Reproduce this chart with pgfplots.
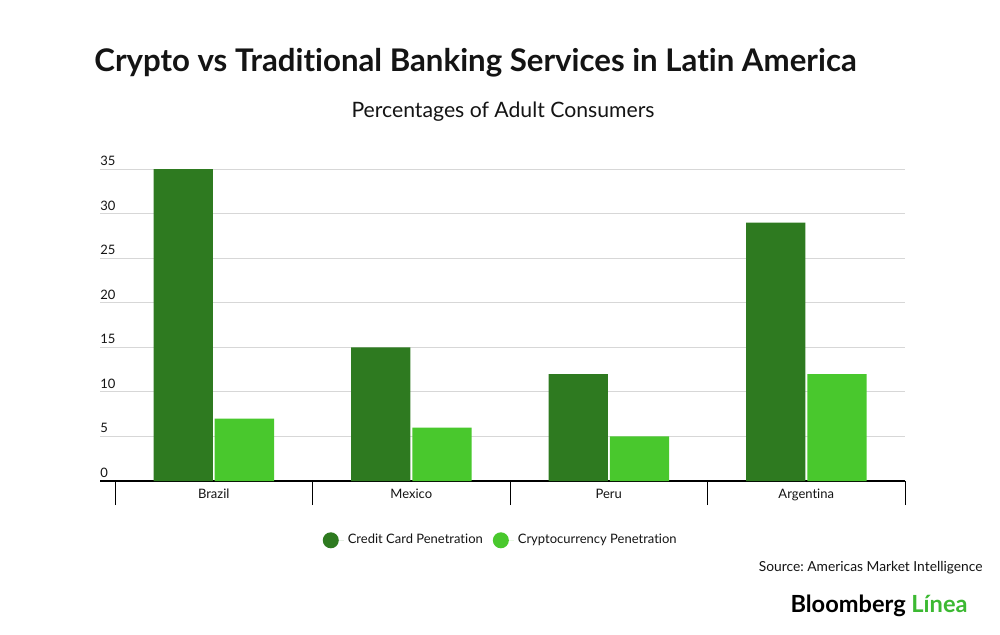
\documentclass[border=0pt]{standalone}
\usepackage{pgfplots}
\pgfplotsset{compat=1.18}
\usepackage{fontspec}
\setmainfont{Lato}[Ligatures={NoCommon,NoRare}]
\frenchspacing
\definecolor{darkg}{RGB}{46,122,32}
\definecolor{lightg}{RGB}{73,200,45}
\definecolor{logog}{RGB}{60,185,50}
\definecolor{txt}{RGB}{20,20,20}
\definecolor{gridc}{RGB}{215,215,215}
\begin{document}
\begin{tikzpicture}
\path[use as bounding box, fill=white] (0,0) rectangle (500pt,-317pt);
\node[anchor=base west, inner sep=0pt, text=txt, font=\fontsize{15.6pt}{17pt}\selectfont\bfseries] at (47pt,-35.5pt) {Crypto vs Traditional Banking Services in Latin America};
\node[anchor=base, inner sep=0pt, text=txt, font=\fontsize{10.6pt}{12pt}\selectfont] at (251.5pt,-58.5pt) {Percentages of Adult Consumers};
\begin{axis}[
  at={(50pt,-240.5pt)}, anchor=south west,
  scale only axis,
  width=402.5pt, height=156pt,
  xmin=-0.576, xmax=3.5,
  ymin=0, ymax=35,
  axis x line*=bottom,
  axis y line*=left,
  x axis line style={-, black, line width=1pt},
  y axis line style={draw=none},
  xtick={0,1,2,3},
  xticklabels={Brazil,Mexico,Peru,Argentina},
  major tick length=0pt,
  extra x ticks={-0.5,0.5,1.5,2.5,3.5},
  extra x tick labels={},
  extra x tick style={major tick length=12pt, tick align=outside, tick style={black, line width=0.5pt}, grid=none},
  ytick={0,5,...,35},
  ymajorgrids,
  grid style={gridc, line width=0.5pt},
  /pgf/number format/assume math mode=true,
  xticklabel style={font=\fontsize{6.5pt}{8pt}\selectfont, text=txt, anchor=north, inner sep=0pt, yshift=-4pt},
  yticklabel style={font=\fontsize{6.5pt}{8pt}\selectfont, text=txt, anchor=south west, inner sep=0pt, yshift=1.5pt},
  clip=false,
  legend style={at={(0.499,-0.19)}, anchor=center, draw=none, fill=none, legend columns=2,
    font=\fontsize{6.5pt}{8pt}\selectfont, text=txt,
    /tikz/every even column/.append style={column sep=3pt}},
  legend image code/.code={\fill[#1] (4pt,0pt) circle (4pt); \path (0pt,0pt) -- (10.5pt,0pt);},
]
\addplot[ybar, bar width=0.3, bar shift=-0.155, draw=none, fill=darkg] coordinates {(0,35) (1,15) (2,12) (3,29)};
\addplot[ybar, bar width=0.3, bar shift=0.155, draw=none, fill=lightg] coordinates {(0,7) (1,6) (2,5) (3,12)};
\legend{Credit Card Penetration, Cryptocurrency Penetration}
\end{axis}
\node[anchor=base east, inner sep=0pt, text=txt, font=\fontsize{6.9pt}{8pt}\selectfont] at (491.5pt,-285.5pt) {Source: Americas Market Intelligence};
\node[anchor=base east, inner sep=0pt, font=\fontsize{11.8pt}{13pt}\selectfont\bfseries] at (484pt,-306pt) {\textcolor{black}{Bloomberg} \textcolor{logog}{Línea}};
\end{tikzpicture}
\end{document}
